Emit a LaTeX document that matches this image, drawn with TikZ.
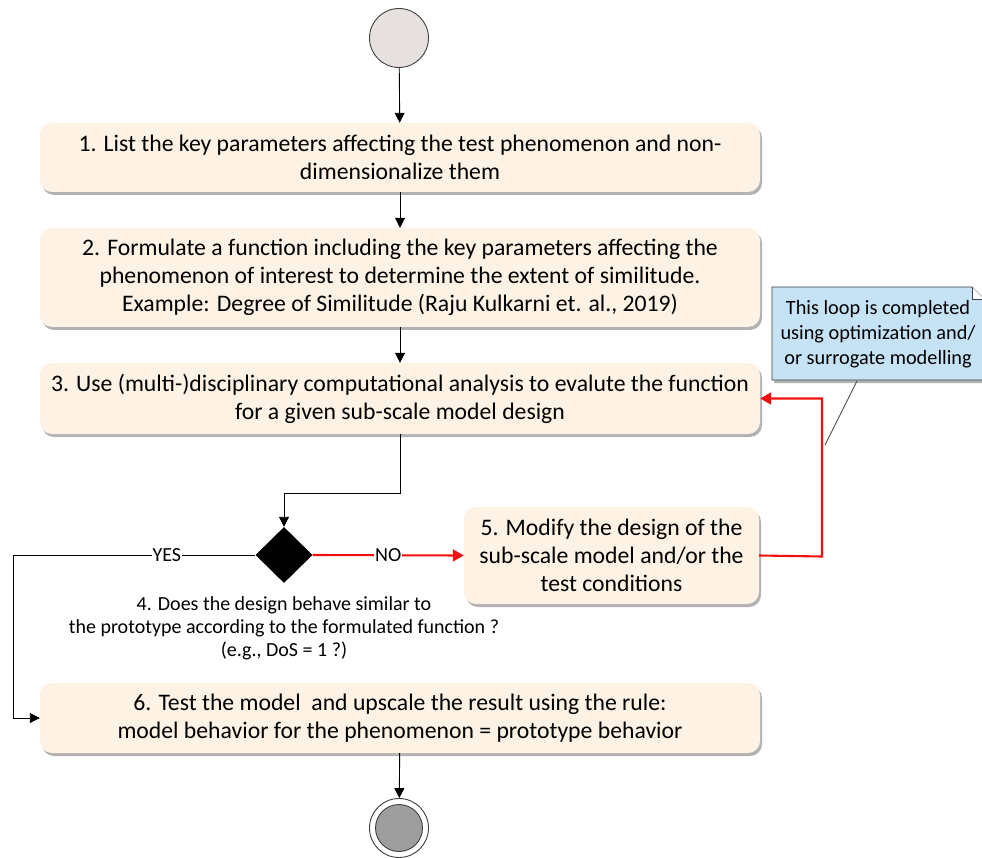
\documentclass[tikz,border=0pt]{standalone}
\usepackage{fontspec}
\setmainfont{Carlito}
\usetikzlibrary{arrows.meta,shapes.geometric,shadows,calc}
\definecolor{cream}{HTML}{FDF2E3}
\definecolor{startgray}{HTML}{E6E1DE}
\definecolor{notefill}{HTML}{C6E2F5}
\definecolor{edgegray}{HTML}{404040}
\definecolor{loopred}{HTML}{F01010}
\begin{document}
\begin{tikzpicture}[x=1pt,y=-1pt,
  stepbox/.style={rectangle, rounded corners=12pt, fill=cream, draw=none,
    drop shadow={shadow xshift=2pt, shadow yshift=-3pt, fill=black, opacity=0.3},
    align=center, font=\fontsize{23.7}{28}\selectfont, inner sep=0pt},
  arr/.style={draw=black, line width=0.9pt, -{Triangle[length=10pt,width=10pt]}},
  redarr/.style={draw=loopred, line width=2.1pt, -{Triangle[length=11pt,width=12pt]}},
  lbl/.style={fill=white, inner sep=1pt, font=\fontsize{20}{22}\selectfont},
  smalltxt/.style={align=center, font=\fontsize{20}{23}\selectfont},
  notetxt/.style={align=center, font=\fontsize{20.3}{25}\selectfont}
]
\useasboundingbox (0,0) rectangle (982,858);

% start
\node (start) [circle, minimum size=59pt, inner sep=0pt, fill=startgray, draw=edgegray, line width=0.9pt] at (399,38) {};

% boxes
\node (b1) [stepbox, minimum width=720pt, minimum height=69pt] at (400,157.5)
  {1. List the key parameters affecting the test phenomenon and non-\\dimensionalize them};
\node (b2) [stepbox, minimum width=720pt, minimum height=99pt] at (400,277.5)
  {2. Formulate a function including the key parameters affecting the\\phenomenon of interest to determine the extent of similitude.\\Example: Degree of Similitude (Raju Kulkarni et. al., 2019)};
\node (b3) [stepbox, minimum width=720pt, minimum height=71pt] at (400,398.5)
  {3. Use (multi-)disciplinary computational analysis to evalute the function\\for a given sub-scale model design};
\node (b5) [stepbox, minimum width=295pt, minimum height=97pt] at (611.5,555.5)
  {5. Modify the design of the\\sub-scale model and/or the\\test conditions};
\node (b6) [stepbox, minimum width=720pt, minimum height=70pt] at (400,718)
  {6. Test the model\ \ and upscale the result using the rule:\\model behavior for the phenomenon = prototype behavior};

% decision
\node (dia) [diamond, aspect=1, minimum width=57pt, minimum height=56pt, inner sep=0pt, fill=black] at (284,555) {};
\node (dlbl) [smalltxt] at (284,628)
  {4. Does the design behave similar to\\the prototype according to the formulated function ?\\(e.g., DoS = 1 ?)};

% end
\node (endo) [circle, minimum size=59pt, inner sep=0pt, draw=edgegray, line width=0.9pt, fill=white] at (399,828) {};
\node (endi) [circle, minimum size=47pt, inner sep=0pt, draw=edgegray, line width=0.9pt, fill=black!38] at (399,828) {};

% note
\fill[notefill, drop shadow={shadow xshift=2pt, shadow yshift=-3pt, fill=black, opacity=0.3}]
  (772,287) -- (972,287) -- (984,299) -- (984,380) -- (772,380) -- cycle;
\draw[edgegray, line width=0.8pt] (984,380) -- (772,380) -- (772,287) -- (972,287) -- (984,299);
\draw[edgegray, line width=0.6pt, fill=white] (972,287) -- (972,299) -- (984,299);
\node (note) [notetxt] at (878,334.5)
  {This loop is completed\\using optimization and/\\or surrogate modelling};
\coordinate (ptip) at (825,445);
\draw[edgegray, line width=0.7pt] (857,381) -- (ptip);

% connectors
\draw[arr] (start) -- (b1);
\draw[arr] (b1) -- (b2);
\draw[arr] (b2) -- (b3);
\draw[arr] (b3.south) -- (b3.south |- 0,493) -| (dia.north);
\draw[arr] (dia.west) -- node[lbl, pos=0.365] {YES} (13,555) |- (b6.west);
\draw[redarr] (dia.east) -- node[lbl, pos=0.5, text=black] {NO} (b5.west);
\draw[redarr] (b5.east) -- (822,556.5) |- (b3.east);
\draw[arr] (b6) -- (endo);
\end{tikzpicture}
\end{document}
